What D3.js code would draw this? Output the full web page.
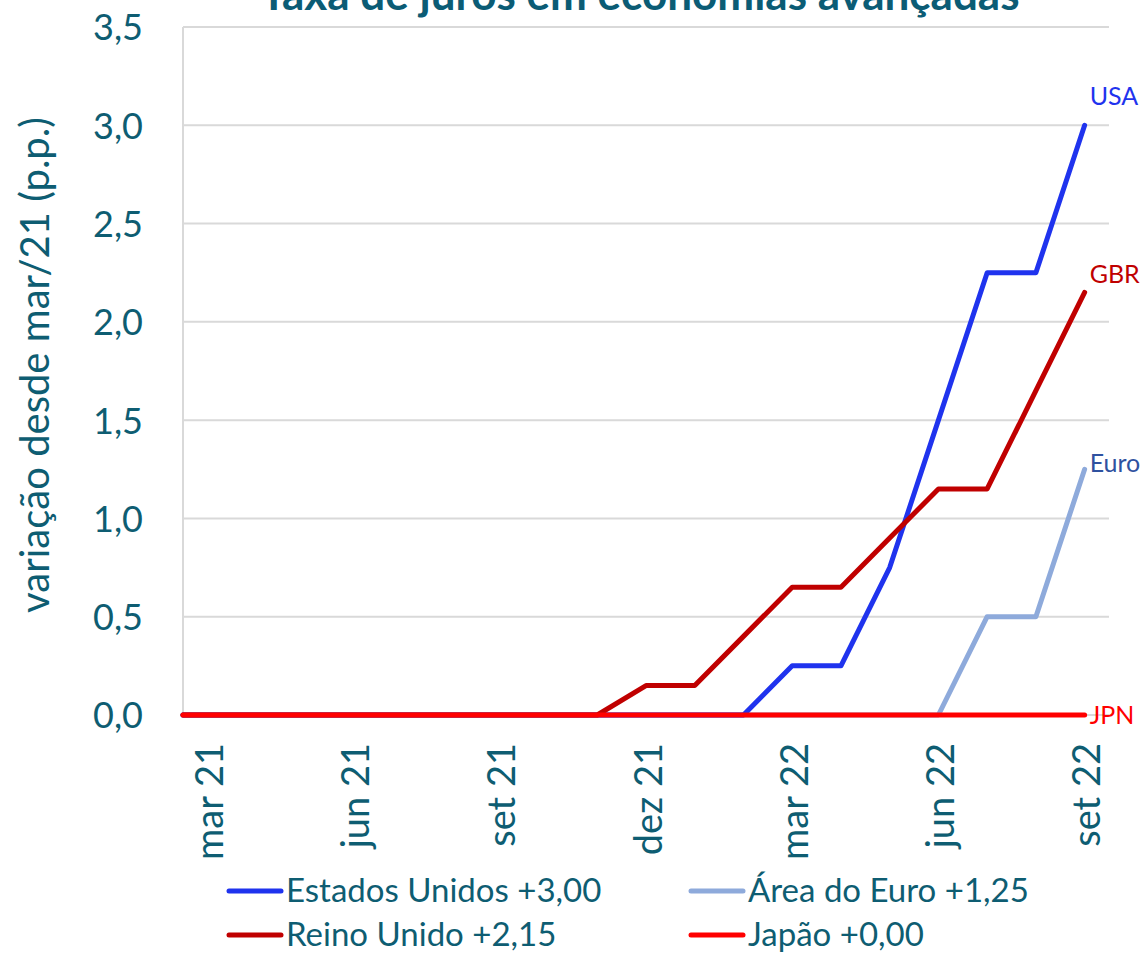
<!DOCTYPE html>
<html>
<head>
<meta charset="utf-8">
<script src="https://cdn.jsdelivr.net/npm/d3@7"></script>
<style>
  body { margin: 0; background: #fff; }
  svg, svg text { font-family: Lato, "Open Sans", sans-serif; }
</style>
</head>
<body>
<script>
// monthly categories, mar/21 .. set/22
const months = ['mar 21', 'abr 21', 'mai 21', 'jun 21', 'jul 21', 'ago 21', 'set 21', 'out 21', 'nov 21',
  'dez 21', 'jan 22', 'fev 22', 'mar 22', 'abr 22', 'mai 22', 'jun 22', 'jul 22', 'ago 22', 'set 22']
const tickLabels = ['mar 21', 'jun 21', 'set 21', 'dez 21', 'mar 22', 'jun 22', 'set 22']
const yTicks = [0, 0.5, 1, 1.5, 2, 2.5, 3, 3.5]

// change since mar/21, p.p.
const usa = [0, 0, 0, 0, 0, 0, 0, 0, 0, 0, 0, 0, 0.25, 0.25, 0.75, 1.5, 2.25, 2.25, 3.0]
const euro = [0, 0, 0, 0, 0, 0, 0, 0, 0, 0, 0, 0, 0, 0, 0, 0, 0.5, 0.5, 1.25]
const gbr = [0, 0, 0, 0, 0, 0, 0, 0, 0, 0.15, 0.15, 0.4, 0.65, 0.65, 0.9, 1.15, 1.15, 1.65, 2.15]
const jpn = [0, 0, 0, 0, 0, 0, 0, 0, 0, 0, 0, 0, 0, 0, 0, 0, 0, 0, 0]

const series = [
  {key: 'euro', values: euro, color: '#8eaadb', tag: 'Euro', tagColor: '#2f52a0', tagDy: 3, legend: 'Área do Euro +1,25'},
  {key: 'usa', values: usa, color: '#1f33ee', tag: 'USA', tagColor: '#1f33ee', tagDy: -20, legend: 'Estados Unidos +3,00'},
  {key: 'gbr', values: gbr, color: '#c00000', tag: 'GBR', tagColor: '#c00000', tagDy: -9, legend: 'Reino Unido +2,15'},
  {key: 'jpn', values: jpn, color: '#ff0000', tag: 'JPN', tagColor: '#ff0000', tagDy: 9, legend: 'Japão +0,00'},
]
const legendOrder = ['usa', 'euro', 'gbr', 'jpn']

const W = 1148, H = 954
const teal = '#0e5d72'
const plot = {left: 183, right: 1109, top: 27, bottom: 715}

const svg = d3.select('body').append('svg')
  .attr('width', W)
  .attr('height', H)

const x = d3.scaleBand()
  .domain(months)
  .range([plot.left, plot.right])
const xc = (m) => x(m) + x.bandwidth() / 2

const y = d3.scaleLinear()
  .domain([0, 3.5])
  .range([plot.bottom, plot.top])

// gridlines
svg.append('g')
  .selectAll('line')
  .data(yTicks)
  .enter().append('line')
  .attr('x1', plot.left)
  .attr('x2', plot.right)
  .attr('y1', (d) => y(d))
  .attr('y2', (d) => y(d))
  .attr('stroke', '#d9d9d9')
  .attr('stroke-width', 2)

svg.append('line')
  .attr('x1', plot.left).attr('x2', plot.left)
  .attr('y1', plot.top).attr('y2', plot.bottom)
  .attr('stroke', '#d9d9d9')
  .attr('stroke-width', 2)

// y axis labels
const yAxis = svg.append('g')
  .attr('transform', 'translate(' + (plot.left - 40) + ',0)')
  .call(d3.axisLeft(y).tickValues(yTicks).tickSize(0).tickPadding(0)
    .tickFormat((d) => d3.format('.1f')(d).replace('.', ',')))
yAxis.attr('font-family', null)
yAxis.select('.domain').remove()
yAxis.selectAll('text')
  .style('font-size', '36px')
  .attr('fill', teal)
  .attr('dy', '0.36em')

// x axis labels
const xAxis = svg.append('g')
  .attr('transform', 'translate(0,' + plot.bottom + ')')
  .call(d3.axisBottom(x).tickValues(tickLabels).tickSize(0))
xAxis.attr('font-family', null)
xAxis.select('.domain').remove()
xAxis.selectAll('text')
  .style('font-size', '38px')
  .attr('fill', teal)
  .attr('text-anchor', 'end')
  .attr('dy', '0.36em')
  .attr('transform', 'translate(2,28)rotate(-90)')
  .attr('x', 0)
  .attr('y', 0)

// lines
const line = d3.line()
  .x((d, i) => xc(months[i]))
  .y((d) => y(d))

svg.append('g')
  .selectAll('path')
  .data(series)
  .enter().append('path')
  .attr('d', (d) => {
    // the series start at the left edge of the plot area
    return 'M' + plot.left + ',' + y(d.values[0]) + line(d.values).replace('M', 'L')
  })
  .attr('fill', 'none')
  .attr('stroke', (d) => d.color)
  .attr('stroke-width', 5)
  .attr('stroke-linejoin', 'round')
  .attr('stroke-linecap', 'round')

// end tags
svg.append('g')
  .selectAll('text')
  .data(series)
  .enter().append('text')
  .attr('x', xc(months[months.length - 1]) + 5)
  .attr('y', (d) => y(d.values[d.values.length - 1]) + d.tagDy)
  .style('font-size', '25px')
  .attr('fill', (d) => d.tagColor)
  .text((d) => d.tag)

// title, clipped at top in the original
svg.append('text')
  .attr('x', 640)
  .attr('y', 10)
  .attr('text-anchor', 'middle')
  .style('font-size', '44px')
  .style('font-weight', 'bold')
  .attr('fill', '#0b5c75')
  .text('Taxa de juros em economias avançadas')

// y axis title
svg.append('text')
  .attr('transform', 'translate(49,365)rotate(-90)')
  .attr('text-anchor', 'middle')
  .style('font-size', '40px')
  .attr('fill', teal)
  .text('variação desde mar/21 (p.p.)')

// legend
const legend = svg.append('g')
  .selectAll('g')
  .data(legendOrder.map((k) => series.find((s) => s.key === k)))
  .enter().append('g')
  .attr('transform', (d, i) => 'translate(' + (i % 2 === 0 ? 229 : 691) + ',' + (891 + Math.floor(i / 2) * 44) + ')')

legend.append('line')
  .attr('x1', 0).attr('x2', 52)
  .attr('stroke', (d) => d.color)
  .attr('stroke-width', 5)
  .attr('stroke-linecap', 'round')

legend.append('text')
  .attr('x', 57)
  .attr('dy', '0.34em')
  .style('font-size', '33px')
  .attr('fill', teal)
  .text((d) => d.legend)
</script>
</body>
</html>
